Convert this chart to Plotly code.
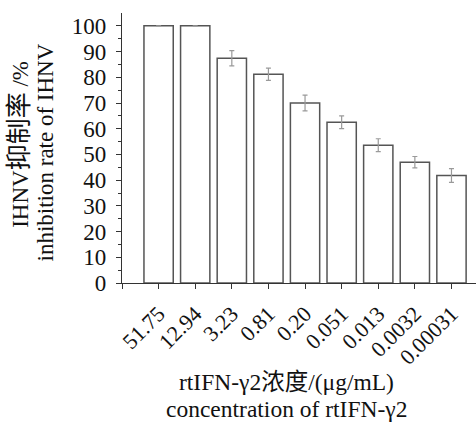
import plotly.graph_objects as go

categories = ["51.75", "12.94", "3.23", "0.81", "0.20", "0.051", "0.013", "0.0032", "0.00031"]
inhibition = [100, 100, 87.4, 81.2, 70.0, 62.5, 53.6, 47.0, 41.8]
errors = [0, 0, 3.0, 2.4, 3.1, 2.5, 2.5, 2.2, 2.7]
y_ticks = [0, 10, 20, 30, 40, 50, 60, 70, 80, 90, 100]

FONT = "Liberation Serif, Times New Roman, Noto Sans CJK SC, serif"
TICKFONT = "Liberation Serif"

fig = go.Figure()
fig.add_trace(go.Bar(
    x=list(range(len(categories))),
    y=inhibition,
    width=0.8,
    marker=dict(color="white", line=dict(color="#555555", width=1.5)),
    error_y=dict(type="data", array=errors, visible=True,
                 color="#9a9a9a", thickness=1.2, width=2.5),
    showlegend=False,
))

fig.update_layout(
    width=476, height=422,
    margin=dict(l=122, r=0, t=13, b=139),
    paper_bgcolor="white", plot_bgcolor="white",
    font=dict(family=FONT, color="#111111", size=21),
    xaxis=dict(
        range=[-1, 8.67],
        tickmode="array",
        tickvals=[-1] + list(range(len(categories))),
        ticktext=[""] + categories,
        tickangle=-45,
        ticks="outside", ticklen=5, tickwidth=1.2, tickcolor="#333333",
        showline=True, linecolor="#333333", linewidth=1.4,
        showgrid=False, zeroline=False,
        ticklabelstandoff=3,
        tickfont=dict(size=22, family=TICKFONT, color="#111111"),
    ),
    yaxis=dict(
        range=[0, 105],
        tickmode="array",
        tickvals=y_ticks,
        ticks="outside", ticklen=5, tickwidth=1.2, tickcolor="#333333",
        showline=True, linecolor="#333333", linewidth=1.4,
        showgrid=False, zeroline=False,
        ticklabelstandoff=5,
        tickfont=dict(size=23, family=TICKFONT, color="#111111"),
        minor=dict(tickvals=[5, 15, 25, 35, 45, 55, 65, 75, 85, 95],
                   ticks="outside", ticklen=3, tickcolor="#333333", tickwidth=1),
    ),
)

# axis titles
fig.add_annotation(text="IHNV<span style='font-size:26px'>抑制率</span> /%",
                   xref="paper", yref="paper",
                   x=-0.288, y=0.1954, xanchor="center", yanchor="bottom",
                   textangle=-90, showarrow=False, font=dict(size=23, family=FONT))
fig.add_annotation(text="inhibition rate of IHNV", xref="paper", yref="paper",
                   x=-0.217, y=0.073, xanchor="center", yanchor="bottom",
                   textangle=-90, showarrow=False, font=dict(size=23, family=FONT))
fig.add_annotation(text="rtIFN-γ2浓度/(μg/mL)", xref="paper", yref="paper",
                   x=0.466, y=-0.368, xanchor="center", yanchor="middle",
                   showarrow=False, font=dict(size=23.5, family=FONT))
fig.add_annotation(text="concentration of rtIFN-γ2", xref="paper", yref="paper",
                   x=0.466, y=-0.4665, xanchor="center", yanchor="middle",
                   showarrow=False, font=dict(size=23.5, family=FONT))

fig.write_html("out.html",
               config={"displayModeBar": False},
               post_script="document.body.style.margin='0';document.body.style.padding='0';")
